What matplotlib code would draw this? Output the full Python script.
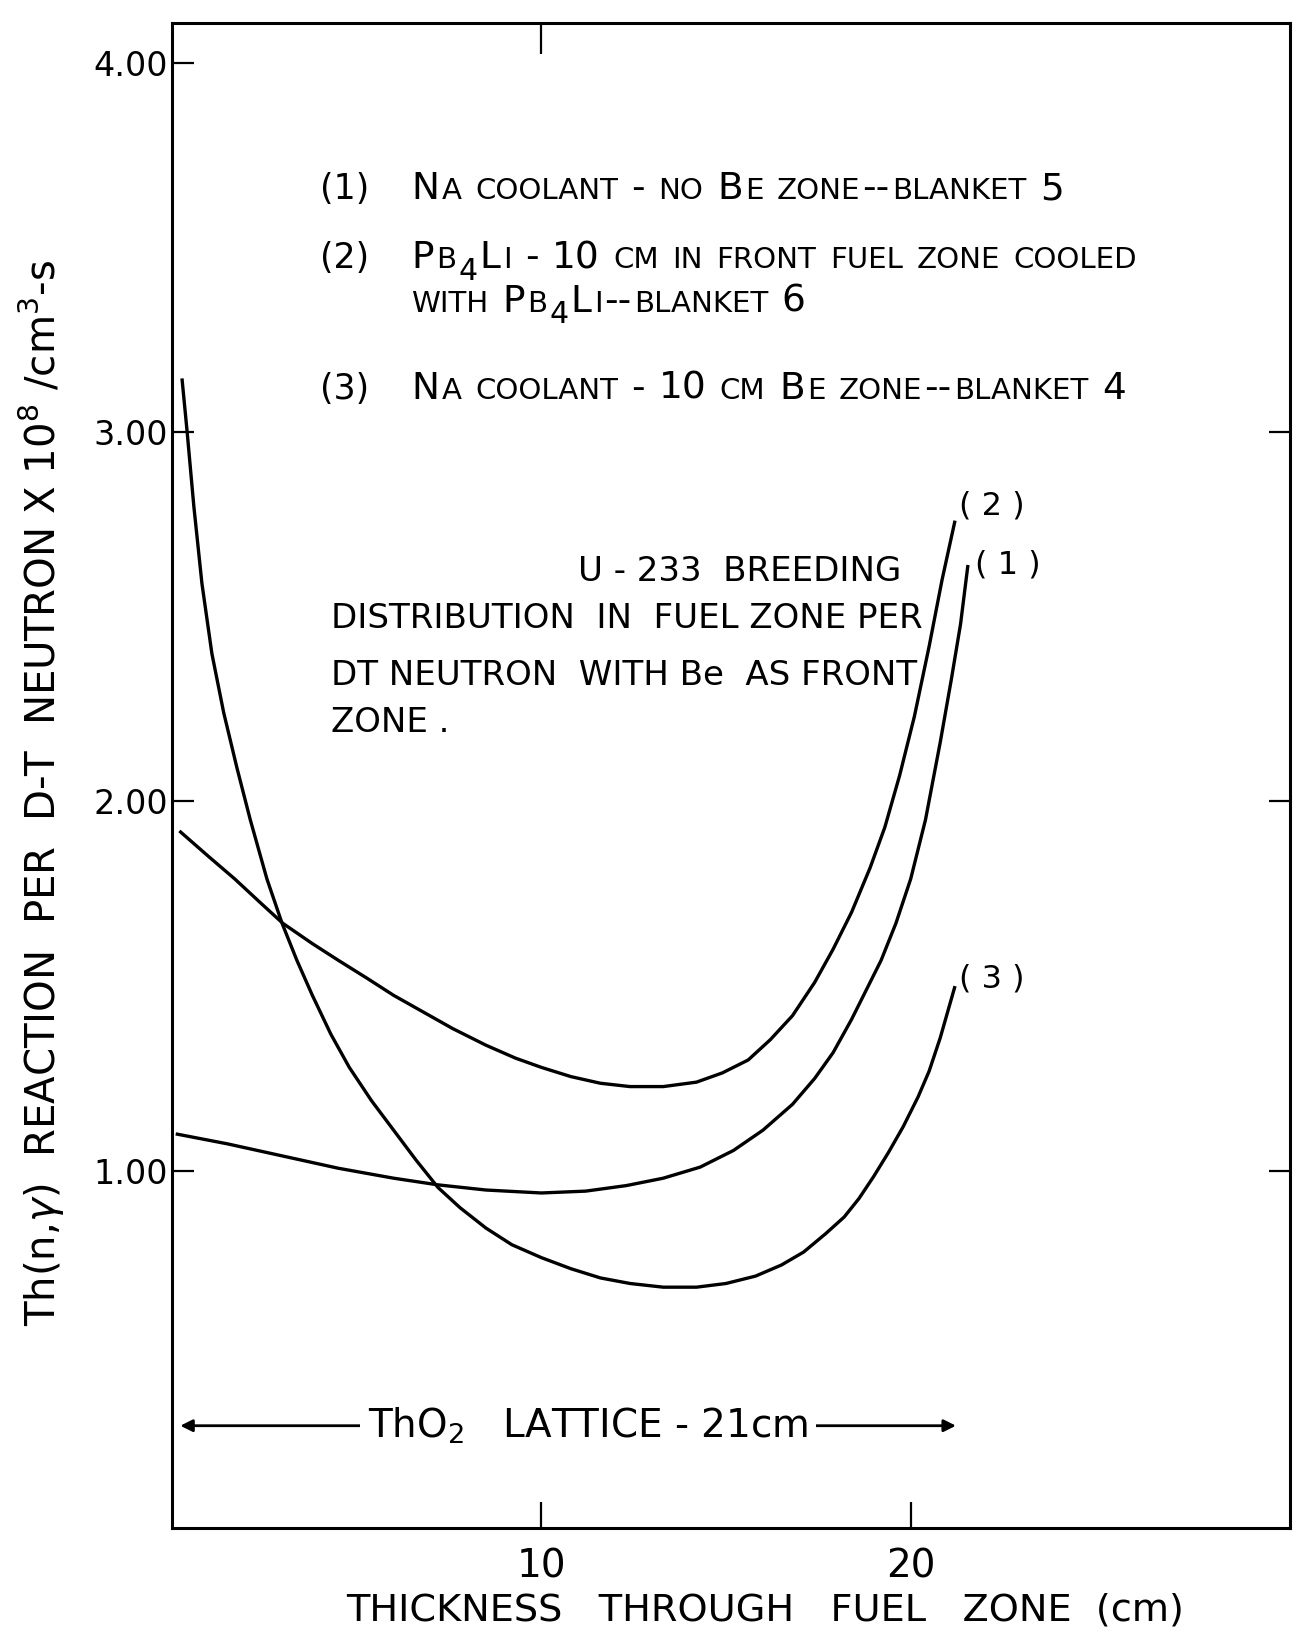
import matplotlib
matplotlib.use('Agg')
import matplotlib.pyplot as plt
from matplotlib import font_manager
from matplotlib.transforms import IdentityTransform

# Th(n,gamma) reaction per D-T neutron
# curve (1): Na coolant - no Be zone
x_1 = [0.1, 1.5, 3.0, 4.5, 6.0, 7.2, 8.5, 10.0, 11.2, 12.3, 13.3, 14.3, 15.2, 16.0, 16.8, 17.4, 17.9,
       18.4, 18.8, 19.2, 19.6, 20.0, 20.4, 20.8, 21.1, 21.35, 21.55]
y_1 = [1.10, 1.073, 1.04, 1.007, 0.98, 0.962, 0.948, 0.94, 0.945, 0.96, 0.98, 1.01, 1.055, 1.11, 1.18, 1.25, 1.32,
       1.41, 1.49, 1.57, 1.67, 1.79, 1.95, 2.16, 2.33, 2.48, 2.64]

# curve (2): Pb4Li cooled front zone
x_2 = [0.2, 1.0, 1.7, 2.4, 3.0, 3.8, 4.5, 5.3, 6.0, 6.8, 7.6, 8.5, 9.3, 10.0, 10.8, 11.6, 12.4, 13.3,
       14.2, 14.9, 15.6, 16.2, 16.8, 17.4, 17.9, 18.4, 18.9, 19.3, 19.7, 20.1, 20.5, 20.85, 21.2]
y_2 = [1.92, 1.85, 1.79, 1.725, 1.67, 1.615, 1.57, 1.52, 1.475, 1.43, 1.385, 1.34, 1.305, 1.28, 1.255, 1.237,
       1.228, 1.228, 1.24, 1.265, 1.30, 1.355, 1.42, 1.51, 1.60, 1.70, 1.82, 1.93, 2.07, 2.23, 2.42, 2.60, 2.76]

# curve (3): Na coolant - 10 cm Be zone
x_3 = [0.27, 0.41, 0.59, 0.81, 1.08, 1.40, 1.76, 2.12, 2.57, 2.98, 3.38, 3.8, 4.3, 4.8, 5.4, 6.0, 6.6, 7.2,
       7.8, 8.5, 9.2, 10.0, 10.8, 11.6, 12.4, 13.3, 14.2, 15.0, 15.8, 16.5, 17.1, 17.7, 18.2, 18.6, 19.0,
       19.4, 19.8, 20.2, 20.5, 20.8, 21.0, 21.2]
y_3 = [3.145, 3.0, 2.80, 2.59, 2.40, 2.24, 2.09, 1.95, 1.79, 1.67, 1.57, 1.475, 1.37, 1.28, 1.19, 1.11, 1.03,
       0.955, 0.90, 0.845, 0.80, 0.765, 0.735, 0.71, 0.695, 0.685, 0.685, 0.695, 0.715, 0.745, 0.78, 0.83,
       0.875, 0.925, 0.985, 1.05, 1.12, 1.20, 1.27, 1.36, 1.43, 1.50]

curve_labels = ['( 1 )', '( 2 )', '( 3 )']
legend_nums = ['(1)', '(2)', '', '(3)']
# lowercase = small caps, "_" = subscript
legend_text = ['Na coolant - no Be zone--blanket 5',
               'Pb_4Li - 10 cm in front fuel zone cooled',
               'with Pb_4Li--blanket 6',
               'Na coolant - 10 cm Be zone--blanket 4']
note_lines = ['U - 233  BREEDING',
              'DISTRIBUTION  IN  FUEL ZONE PER',
              'DT NEUTRON  WITH Be  AS FRONT',
              'ZONE .']
y_ticks = [1, 2, 3, 4]
y_ticklabels = ['1.00', '2.00', '3.00', '4.00']
x_ticks = [10, 20]

names = {f.name for f in font_manager.fontManager.ttflist}
NARROW = 'Liberation Sans Narrow' if 'Liberation Sans Narrow' in names else 'DejaVu Sans'

fig = plt.figure(figsize=(13.07, 16.32), dpi=100)
ax = fig.add_axes([0.1316, 0.0637, 0.987 - 0.1316, 0.9859 - 0.0637])

for xs, ys in [(x_1, y_1), (x_2, y_2), (x_3, y_3)]:
    ax.plot(xs, ys, color='black', lw=2.4, solid_capstyle='butt', solid_joinstyle='round')

ax.set_xlim(0, 30.27)
ax.set_ylim(0.033, 4.107)
for s in ax.spines.values():
    s.set_linewidth(2.2)

ax.set_xticks(x_ticks)
ax.set_xticklabels([str(v) for v in x_ticks], family=NARROW, fontsize=28)
ax.set_yticks(y_ticks)
ax.set_yticklabels(y_ticklabels, family='DejaVu Sans', fontsize=24)
ax.tick_params(axis='x', direction='in', length=19, width=1.6, pad=14)
ax.tick_params(axis='y', direction='in', length=16, width=1.6, pad=3)

top = ax.secondary_xaxis('top')
top.set_xticks([10])
top.set_xticklabels([])
top.tick_params(direction='in', length=22, width=1.6)
right = ax.secondary_yaxis('right')
right.set_yticks([1, 2, 3])
right.set_yticklabels([])
right.tick_params(direction='in', length=15, width=1.6)

# curve end labels
ax.text(21.75, 2.64, curve_labels[0], family=NARROW, fontsize=23, va='center', ha='left')
ax.text(21.3, 2.80, curve_labels[1], family=NARROW, fontsize=23, va='center', ha='left')
ax.text(21.3, 1.52, curve_labels[2], family=NARROW, fontsize=23, va='center', ha='left')

# annotation block
ax.text(10.99, 2.597, note_lines[0], fontsize=24.5, va='baseline')
ax.text(4.31, 2.468, note_lines[1], fontsize=24.5, va='baseline')
ax.text(4.31, 2.316, note_lines[2], fontsize=24.5, va='baseline')
ax.text(4.31, 2.189, note_lines[3], fontsize=24.5, va='baseline')

# lattice arrow
ax.annotate('', xy=(0.15, 0.31), xytext=(21.3, 0.31),
            arrowprops=dict(arrowstyle='<|-|>', lw=2, color='black', mutation_scale=18))
ax.text(11.27, 0.31, 'ThO$_2$   LATTICE - 21cm', family=NARROW, fontsize=28, ha='center', va='center',
        bbox=dict(facecolor='white', edgecolor='none', pad=6))

fig.text(0.585, 0.0129, 'THICKNESS   THROUGH   FUEL   ZONE  (cm)', family=NARROW, fontsize=27.5,
         ha='center', va='center')
fig.text(0.032, 0.514, r'Th(n,$\gamma$)  REACTION  PER  D-T  NEUTRON X $10^8$ /cm$^3$-s',
         fontsize=29, rotation=90, ha='center', va='center')


def small_caps(ax, x, y, s, size):
    # typewriter small caps: capitals full size, lowercase as smaller capitals
    f = ax.figure
    r = f.canvas.get_renderer()
    px, py = ax.transData.transform((x, y))
    k = f.dpi / 72.0
    i = 0
    while i < len(s):
        c = s[i]
        if c == ' ':
            px += 0.30 * size * k
            i += 1
            continue
        if c == '_':
            t = f.text(px, py - 0.30 * size * k, s[i + 1], fontsize=0.8 * size, family=NARROW,
                       transform=IdentityTransform(), va='baseline')
            px += t.get_window_extent(r).width + 0.06 * size * k
            i += 2
            continue
        low = c.islower()
        j = i
        while j < len(s) and s[j] not in ' _' and s[j].islower() == low:
            j += 1
        t = f.text(px, py, s[i:j].upper(), fontsize=size * (0.78 if low else 1.0), family=NARROW,
                   transform=IdentityTransform(), va='baseline')
        px += t.get_window_extent(r).width + 0.06 * size * k
        i = j


legend_y = [3.63, 3.443, 3.325, 3.09]
for num, txt, yy in zip(legend_nums, legend_text, legend_y):
    if num:
        small_caps(ax, 4.0, yy, num, 25)
    small_caps(ax, 6.48, yy, txt, 27)

fig.savefig('out.png', dpi=100)
